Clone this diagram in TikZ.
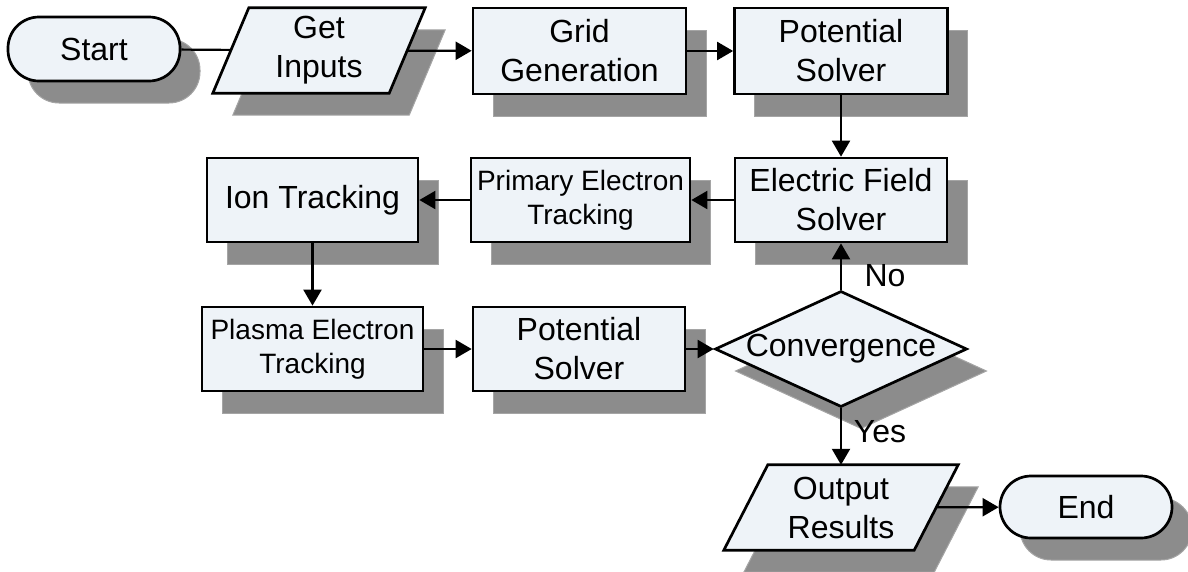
\documentclass[tikz,border=0pt]{standalone}
\usepackage{fontspec}
\setmainfont{Liberation Sans}
\usetikzlibrary{shapes.geometric,shadows,arrows.meta}
\definecolor{boxfill}{RGB}{238,243,248}
\definecolor{shfill}{RGB}{140,140,140}
\definecolor{shedge}{RGB}{165,165,165}
\pgfdeclarelayer{background}
\pgfsetlayers{background,main}
\tikzset{
  sh/.style={drop shadow={shadow xshift=20pt, shadow yshift=-22pt, fill=shfill, draw=shedge, line width=1pt, opacity=1}},
  txt/.style={inner sep=0pt, align=center, font=\fontsize{32}{39}\selectfont},
  base/.style={txt, draw=black, line width=2.7pt, fill=boxfill, sh},
  proc/.style={base, rectangle},
  term/.style={base, rectangle, rounded corners=31pt},
  iotext/.style={txt, rectangle},
  dec/.style={base, diamond},
  smalltext/.style={font=\fontsize{28}{34}\selectfont},
  shpara/.style={fill=shfill, draw=shedge, line width=1pt},
  para/.style={fill=boxfill, draw=black, line width=2.7pt},
  arr/.style={line width=2.2pt, -{Triangle[length=16pt,width=18pt]}},
  conn/.style={line width=2.2pt},
  lbl/.style={font=\fontsize{32}{39}\selectfont, inner sep=0pt},
}
\begin{document}
\begin{tikzpicture}[x=1pt,y=-1pt]
\useasboundingbox (0,0) rectangle (1188,571);
% row 1
\node[term, minimum width=172pt, minimum height=64pt] (start) at (94,49) {Start};
\node[iotext, minimum width=176pt, minimum height=85pt] (get) at (319,50.5) {Get\\Inputs};
\node[proc, minimum width=213pt, minimum height=86pt] (grid) at (579.5,51) {Grid\\Generation};
\node[proc, minimum width=213pt, minimum height=86pt] (pot1) at (841,51) {Potential\\Solver};
% row 2
\node[proc, minimum width=212pt, minimum height=84pt] (efs) at (841,200) {Electric Field\\Solver};
\node[proc, smalltext, minimum width=219pt, minimum height=84pt] (prim) at (580.5,200) {Primary Electron\\Tracking};
\node[proc, minimum width=211pt, minimum height=84pt] (ion) at (312.5,200) {Ion Tracking};
% row 3
\node[proc, smalltext, minimum width=221pt, minimum height=84pt] (plasma) at (312.5,349) {Plasma Electron\\Tracking};
\node[proc, minimum width=212pt, minimum height=84pt] (pot2) at (579,349) {Potential\\Solver};
\node[dec, minimum width=252pt, minimum height=116pt] (conv) at (841,349) {\makebox[0pt]{Convergence}};
% row 4
\node[iotext, minimum width=190pt, minimum height=85pt] (out) at (841,507.5) {Output\\Results};
\node[term, minimum width=172pt, minimum height=62pt] (end) at (1086,507) {End};
% parallelogram outlines (input / output)
\begin{pgfonlayer}{background}
  \path[shpara] ([xshift=2pt,yshift=-22pt]get.south west) -- ([xshift=38pt,yshift=-22pt]get.north west)
    -- ([xshift=38pt,yshift=-22pt]get.north east) -- ([xshift=2pt,yshift=-22pt]get.south east) -- cycle;
  \path[para] ([xshift=-18pt]get.south west) -- ([xshift=18pt]get.north west)
    -- ([xshift=18pt]get.north east) -- ([xshift=-18pt]get.south east) -- cycle;
  \path[shpara] ([xshift=-2pt,yshift=-22pt]out.south west) -- ([xshift=42pt,yshift=-22pt]out.north west)
    -- ([xshift=42pt,yshift=-22pt]out.north east) -- ([xshift=-2pt,yshift=-22pt]out.south east) -- cycle;
  \path[para] ([xshift=-22pt]out.south west) -- ([xshift=22pt]out.north west)
    -- ([xshift=22pt]out.north east) -- ([xshift=-22pt]out.south east) -- cycle;
\end{pgfonlayer}
% labels
\node[lbl] (no) at (885,276) {No};
\node[lbl] (yes) at (880,432) {Yes};
% connectors
\draw[conn] (start) -- (get);
\draw[arr] (get) -- (grid);
\draw[arr] (grid) -- (pot1);
\draw[arr] (pot1) -- (efs);
\draw[arr] (efs) -- (prim);
\draw[arr] (prim) -- (ion);
\draw[arr] (ion) -- (plasma);
\draw[arr] (plasma) -- (pot2);
\draw[arr] (pot2) -- (conv);
\draw[arr] (conv) -- (efs);
\draw[arr] (conv) -- (out);
\draw[arr] (out) -- (end);
\end{tikzpicture}
\end{document}
